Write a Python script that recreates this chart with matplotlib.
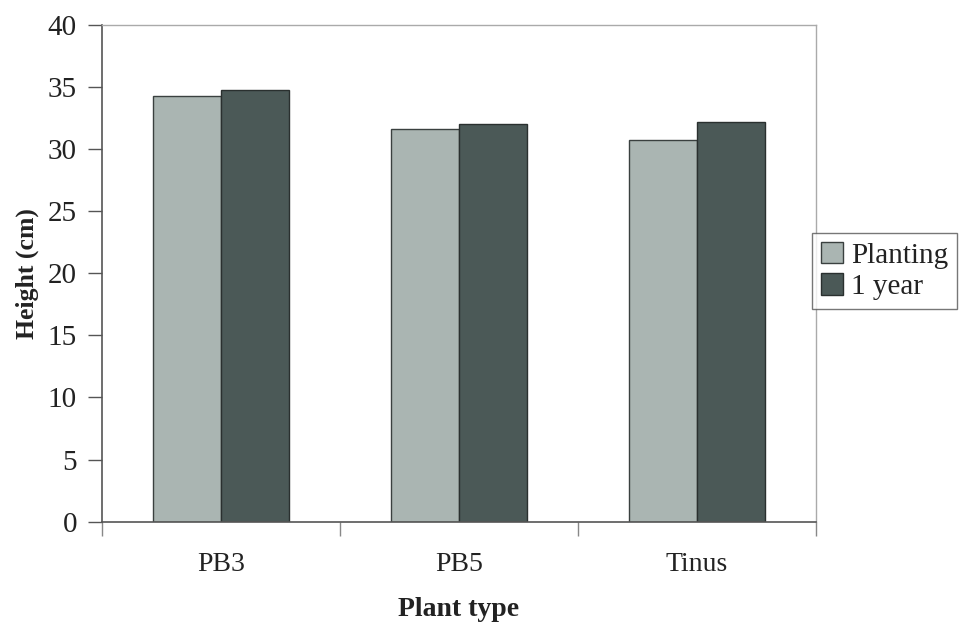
import matplotlib
matplotlib.use("Agg")
import matplotlib.pyplot as plt
import numpy as np

categories = ["PB3", "PB5", "Tinus"]
planting = [34.3, 31.6, 30.7]
one_year = [34.8, 32.0, 32.2]
series_names = ["Planting", "1 year"]
yticks = [0, 5, 10, 15, 20, 25, 30, 35, 40]

plt.rcParams['font.family'] = ['Liberation Serif', 'DejaVu Serif']

fig = plt.figure(figsize=(9.59, 6.26), dpi=100)
ax = fig.add_axes([102/959, 1-521.6/626, (816-102)/959, (521.6-25)/626])

x = np.arange(len(categories))
w = 0.286
c1 = "#aab5b2"
c2 = "#4b5957"
ax.bar(x - w/2, planting, w, color=c1, edgecolor="#3a403f", linewidth=1.0, label=series_names[0])
ax.bar(x + w/2, one_year, w, color=c2, edgecolor="#2a302f", linewidth=1.0, label=series_names[1])

ax.set_xlim(-0.5, 2.5)
ax.set_ylim(0, 40)
ax.set_yticks(yticks)
ax.set_yticklabels([str(v) for v in yticks], fontsize=21, color="#222222")
ax.set_xticks(x)
ax.set_xticklabels(categories, fontsize=20, color="#222222")
ax.tick_params(axis='x', length=0, pad=22)
ax.tick_params(axis='y', direction='out', length=10, width=1, color="#555555", pad=8)
# category boundary ticks
ax.set_xticks([-0.5, 0.5, 1.5, 2.5], minor=True)
ax.tick_params(axis='x', which='minor', direction='out', length=10, width=1, color="#888888")

for s in ['left', 'bottom']:
    ax.spines[s].set_color("#555555")
    ax.spines[s].set_linewidth(1.2)
for s in ['top', 'right']:
    ax.spines[s].set_color("#aaaaaa")
    ax.spines[s].set_linewidth(1.0)

ax.set_ylabel("Height (cm)", fontsize=18.5, fontweight='bold', labelpad=6, color="#222222")
ax.set_xlabel("Plant type", fontsize=20, fontweight='bold', labelpad=14, color="#222222")

leg = ax.legend(loc='center left', bbox_to_anchor=(812/959, 1-271/626), bbox_transform=fig.transFigure,
                fontsize=21, frameon=True, fancybox=False, edgecolor="#555555",
                handlelength=0.75, handleheight=0.75, handletextpad=0.3, borderpad=0.3,
                labelspacing=0.15, borderaxespad=0)
leg.get_frame().set_linewidth(1.0)
for t in leg.get_texts():
    t.set_color("#222222")

fig.savefig("out.png", dpi=100)
